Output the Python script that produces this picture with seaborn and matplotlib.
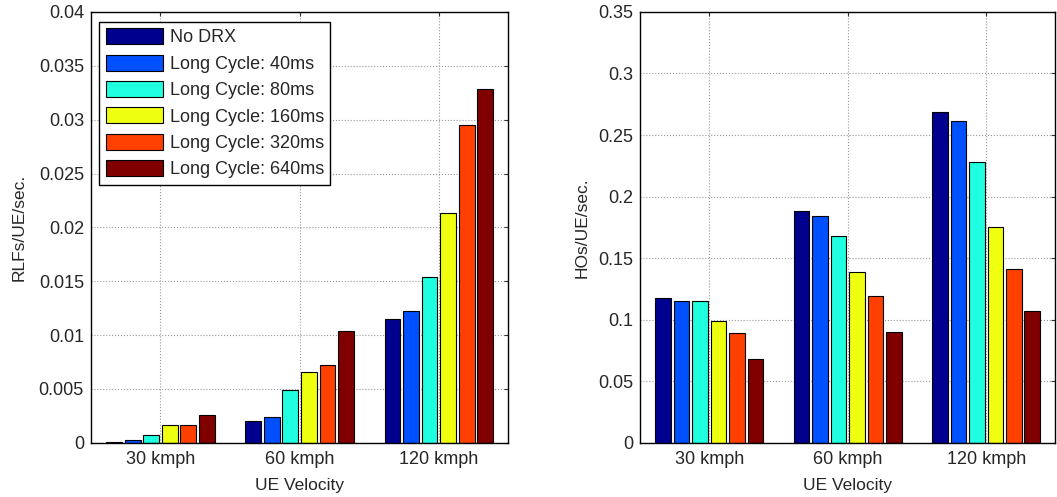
import matplotlib
matplotlib.use('Agg')
import numpy as np
import pandas as pd
import seaborn as sns
import matplotlib.pyplot as plt

# data
velocities = ['30 kmph', '60 kmph', '120 kmph']
configs = ['No DRX', 'Long Cycle: 40ms', 'Long Cycle: 80ms',
           'Long Cycle: 160ms', 'Long Cycle: 320ms', 'Long Cycle: 640ms']
colors = ['#00008F', '#0050FF', '#20FFDF', '#EFFF10', '#FF4000', '#800000']

# rows = velocity, columns = config
rlf = [[0.0001, 0.0003, 0.0007, 0.0017, 0.0017, 0.0026],
       [0.0020, 0.0024, 0.0049, 0.0066, 0.0072, 0.0104],
       [0.0115, 0.0122, 0.0154, 0.0213, 0.0295, 0.0328]]
ho = [[0.118, 0.115, 0.115, 0.099, 0.089, 0.068],
      [0.188, 0.184, 0.168, 0.139, 0.119, 0.090],
      [0.269, 0.261, 0.228, 0.175, 0.141, 0.107]]


def to_long(vals):
    rows = []
    for i, v in enumerate(velocities):
        for j, c in enumerate(configs):
            rows.append({'vel': v, 'cfg': c, 'val': vals[i][j]})
    return pd.DataFrame(rows)


sns.set_style('white')
plt.rcParams['font.family'] = ['Liberation Sans', 'DejaVu Sans']
FS = 13

fig = plt.figure(figsize=(10.57, 4.97), dpi=100)
ax1 = fig.add_axes([0.086, 0.109, 0.395, 0.867])
ax2 = fig.add_axes([0.6055, 0.109, 0.393, 0.867])

panels = [(ax1, rlf, 'RLFs/UE/sec.', 0.04, np.arange(0, 0.0401, 0.005), True, 9),
          (ax2, ho, 'HOs/UE/sec.', 0.35, np.arange(0, 0.3501, 0.05), False, 6)]

for ax, vals, ylab, ymax, yt, show_leg, ypad in panels:
    df = to_long(vals)
    sns.barplot(data=df, x='vel', y='val', hue='cfg', hue_order=configs,
                palette=colors, width=0.8, gap=0.15, edgecolor='black',
                linewidth=0.8, ax=ax, legend=show_leg, saturation=1)
    ax.set_axisbelow(True)
    ax.set_xlim(-0.5, 2.5)
    ax.set_ylim(0, ymax)
    ax.set_yticks(yt)
    ax.set_yticklabels(['0'] + ['%g' % t for t in yt[1:]])
    ax.grid(True, linestyle=':', color='#999999', linewidth=0.8)
    ax.set_xlabel('UE Velocity', fontsize=12.5, labelpad=7)
    ax.set_ylabel(ylab, fontsize=12.5, labelpad=ypad)
    ax.tick_params(direction='in', length=3, top=True, right=True,
                   labelsize=FS, color='#333333')
    ax.tick_params(axis='x', pad=6)
    ax.tick_params(axis='y', pad=5)
    for s in ax.spines.values():
        s.set_color('black')
        s.set_linewidth(1.0)

leg = ax1.legend(loc='upper left', bbox_to_anchor=(0.02, 0.977), fontsize=FS,
                 handlelength=3.2, handleheight=1.0, labelspacing=0.45,
                 handletextpad=0.35, borderpad=0.35, borderaxespad=0,
                 fancybox=False, framealpha=1, edgecolor='black')
leg.get_frame().set_linewidth(1.0)

fig.savefig('out.png', dpi=100)
